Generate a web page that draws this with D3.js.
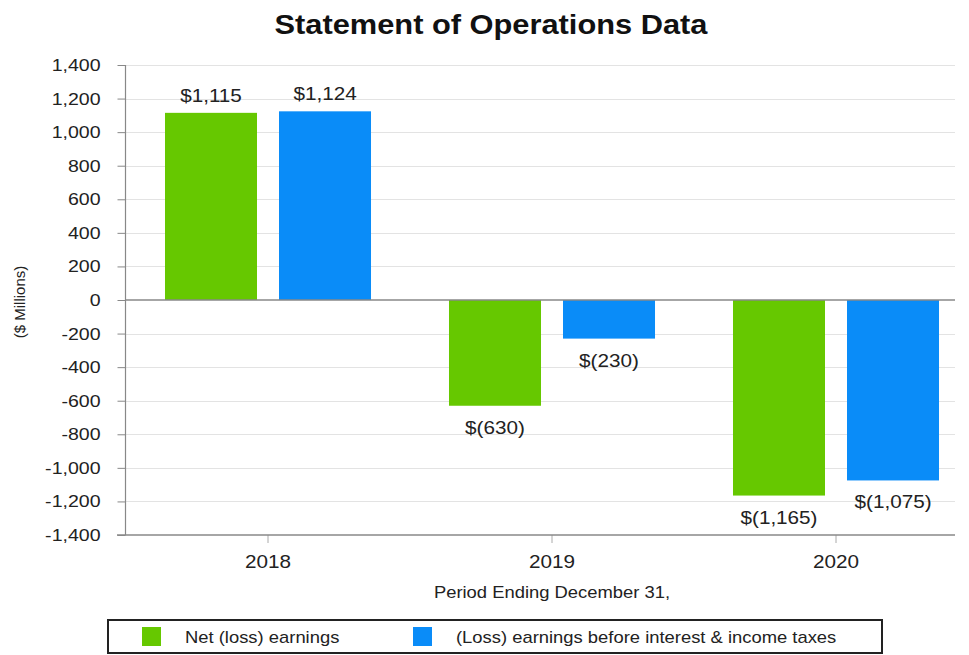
<!DOCTYPE html>
<html>
<head>
<meta charset="utf-8">
<script src="https://cdn.jsdelivr.net/npm/d3@7/dist/d3.min.js"></script>
<style>
  html, body { margin: 0; padding: 0; background: #fff; }
  svg { display: block; font-family: "Liberation Sans", Arial, Helvetica, sans-serif; }
</style>
</head>
<body>
<svg id="chart" width="969" height="655"></svg>
<script>
// ---- data ----
const years = ["2018", "2019", "2020"];
const seriesNames = ["Net (loss) earnings", "(Loss) earnings before interest & income taxes"];
const netEarnings = [1115, -630, -1165];
const ebit = [1124, -230, -1075];
const valueLabelsNet = ["$1,115", "$(630)", "$(1,165)"];
const valueLabelsEbit = ["$1,124", "$(230)", "$(1,075)"];
const yTickValues = [1400, 1200, 1000, 800, 600, 400, 200, 0, -200, -400, -600, -800, -1000, -1200, -1400];
const yTickLabels = ["1,400", "1,200", "1,000", "800", "600", "400", "200", "0", "-200", "-400", "-600", "-800", "-1,000", "-1,200", "-1,400"];
const colors = ["#66c800", "#0a8cf8"];

const title = "Statement of Operations Data";
const xTitle = "Period Ending December 31,";
const yTitle = "($ Millions)";

// ---- layout ----
const SX = 1.15; // horizontal text stretch seen in the reference
const plotLeft = 125, plotRight = 955, plotTop = 65, plotBottom = 535;

const svg = d3.select("#chart");

function stretch(sel, s = SX) {
  sel.each(function () {
    const t = d3.select(this);
    const x = +t.attr("x") || 0, y = +t.attr("y") || 0;
    t.attr("x", 0).attr("y", 0).attr("transform", `translate(${x},${y}) scale(${s},1)`);
  });
}

const y = d3.scaleLinear().domain([-1400, 1400]).range([plotBottom, plotTop]);
const x0 = d3.scaleBand().domain(years).range([126, 978]);
const x1 = d3.scaleBand().domain([0, 1]).range([0, x0.step()]).paddingInner(0.193).paddingOuter(0.342);

// gridlines
svg.append("g").selectAll("line")
  .data(yTickValues.filter(v => v !== 0 && v !== -1400))
  .join("line")
  .attr("x1", plotLeft).attr("x2", plotRight)
  .attr("y1", d => Math.round(y(d)) + 0.5).attr("y2", d => Math.round(y(d)) + 0.5)
  .attr("stroke", "#e3e3e3").attr("stroke-width", 1);

// bars
const data = [];
years.forEach((yr, i) => {
  data.push({ yr, s: 0, v: netEarnings[i], lab: valueLabelsNet[i] });
  data.push({ yr, s: 1, v: ebit[i], lab: valueLabelsEbit[i] });
});

svg.append("g").selectAll("rect")
  .data(data)
  .join("rect")
  .attr("x", d => x0(d.yr) + x1(d.s))
  .attr("width", x1.bandwidth())
  .attr("y", d => y(Math.max(0, d.v)))
  .attr("height", d => Math.abs(y(d.v) - y(0)))
  .attr("fill", d => colors[d.s]);

// value labels
svg.append("g").selectAll("text")
  .data(data)
  .join("text")
  .attr("x", d => x0(d.yr) + x1(d.s) + x1.bandwidth() / 2)
  .attr("y", d => d.v >= 0 ? y(d.v) - 11 : y(d.v) + 28)
  .attr("text-anchor", "middle")
  .attr("font-size", 18)
  .attr("fill", "#222")
  .text(d => d.lab)
  .call(stretch);

// y axis
const yAxis = svg.append("g")
  .attr("transform", `translate(${plotLeft + 0.5},0)`)
  .call(d3.axisLeft(y).tickValues(yTickValues).tickSize(8).tickPadding(17)
    .tickFormat((d, i) => yTickLabels[i]));
yAxis.select(".domain").remove();
yAxis.selectAll(".tick line").attr("stroke", "#888");
yAxis.selectAll(".tick text").attr("font-size", 17).attr("fill", "#222")
  .attr("font-family", "Liberation Sans, Arial, sans-serif").call(stretch);
svg.append("line")
  .attr("x1", plotLeft + 0.5).attr("x2", plotLeft + 0.5)
  .attr("y1", plotTop).attr("y2", plotBottom)
  .attr("stroke", "#888").attr("stroke-width", 1.2);

// zero line
svg.append("line")
  .attr("x1", plotLeft).attr("x2", plotRight)
  .attr("y1", y(0)).attr("y2", y(0))
  .attr("stroke", "#888").attr("stroke-width", 1.5);

// x axis
const xAxis = svg.append("g")
  .attr("transform", `translate(0,${plotBottom})`)
  .call(d3.axisBottom(x0).tickSize(8).tickPadding(12));
xAxis.select(".domain").remove();
xAxis.selectAll(".tick line").attr("stroke", "#aaa");
xAxis.selectAll(".tick text").attr("font-size", 18).attr("fill", "#222")
  .attr("font-family", "Liberation Sans, Arial, sans-serif").call(stretch);
svg.append("line")
  .attr("x1", 117).attr("x2", plotRight)
  .attr("y1", plotBottom).attr("y2", plotBottom)
  .attr("stroke", "#888").attr("stroke-width", 1.5);

// title
svg.append("text")
  .attr("x", 491).attr("y", 34)
  .attr("text-anchor", "middle")
  .attr("font-size", 28).attr("font-weight", "bold").attr("fill", "#111")
  .text(title).call(stretch, 1.1);

// x axis title
svg.append("text")
  .attr("x", 552).attr("y", 598)
  .attr("text-anchor", "middle")
  .attr("font-size", 16).attr("fill", "#222")
  .text(xTitle).call(stretch);

// y axis title
svg.append("text")
  .attr("transform", "translate(25,302) rotate(-90)")
  .attr("text-anchor", "middle")
  .attr("font-size", 15).attr("fill", "#222")
  .text(yTitle);

// legend
const legend = svg.append("g");
legend.append("rect")
  .attr("x", 108).attr("y", 620).attr("width", 774).attr("height", 33)
  .attr("fill", "#fff").attr("stroke", "#222").attr("stroke-width", 2);
const legendX = [142, 413];
const items = legend.selectAll("g.item")
  .data(seriesNames)
  .join("g").attr("class", "item")
  .attr("transform", (d, i) => `translate(${legendX[i]},0)`);
items.append("rect")
  .attr("x", 0).attr("y", 627).attr("width", 19).attr("height", 19)
  .attr("fill", (d, i) => colors[i]);
items.append("text")
  .attr("x", 43).attr("y", 643)
  .attr("font-size", 16).attr("fill", "#222")
  .text(d => d)
  .call(stretch);
</script>
</body>
</html>
